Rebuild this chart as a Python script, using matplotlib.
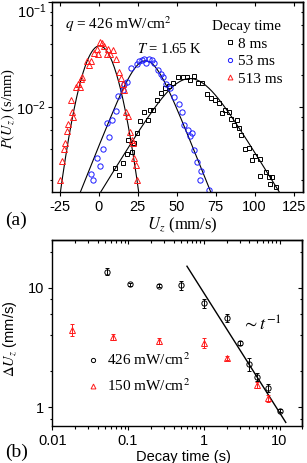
import numpy as np
import matplotlib.pyplot as plt
from matplotlib.ticker import FixedLocator, LogLocator, NullFormatter, FuncFormatter

plt.rcParams['font.family'] = ['Liberation Sans', 'DejaVu Sans']
plt.rcParams['mathtext.fontset'] = 'stix'
plt.rcParams['axes.linewidth'] = 1.0
plt.rcParams['axes.unicode_minus'] = False
plt.rcParams['xtick.labelsize'] = 10.5
plt.rcParams['ytick.labelsize'] = 10.5

SERIF = ['Liberation Serif', 'DejaVu Serif']

# (a) velocity distributions, q = 426 mW/cm2, T = 1.65 K
u_8ms = [10.5, 13.2, 15.8, 18.4, 19.0, 21.2, 22.3, 24.8, 26.6, 29.0,
         31.3, 33.0, 35.1, 37.3, 39.9, 42.6, 44.8, 47.6, 50.8, 54.0,
         56.6, 58.7, 61.3, 63.4, 66.2, 69.5, 72.0, 74.5, 76.9, 79.1,
         81.2, 83.4, 84.9, 87.0, 88.7, 89.8, 91.5, 94.1, 96.2, 98.4,
         100.1, 103.3, 103.7, 107.0, 109.1, 109.7, 111.3, 114.0]
p_8ms = [0.00262, 0.00226, 0.00292, 0.00354, 0.00482, 0.00372, 0.00448, 0.00565, 0.00736, 0.00896,
         0.00747, 0.0093, 0.0093, 0.0116, 0.0136, 0.0150, 0.0158, 0.0167, 0.0193, 0.0193,
         0.0191, 0.0182, 0.0196, 0.0167, 0.0167, 0.0132, 0.0121, 0.0117, 0.0108, 0.00865,
         0.0093, 0.00896, 0.00759, 0.0067, 0.00747, 0.00622, 0.00537, 0.00393, 0.00401, 0.0031,
         0.00341, 0.00315, 0.00218, 0.0024, 0.00215, 0.00183, 0.00212, 0.00173]

u_53ms = [-5.1, -3.5, -1.3, 0.8, 3.0, 5.1, 6.4, 8.4, 11.1, 12.6,
          15.4, 16.3, 18.4, 20.8, 24.4, 26.1, 27.7, 28.7, 30.4, 31.9,
          34.1, 35.6, 38.3, 39.9, 40.9, 43.3, 45.9, 48.4, 51.2, 53.3,
          54.4, 57.0, 58.3, 59.8, 61.3, 63.0, 65.1, 65.8, 70.5]
p_53ms = [0.00227, 0.0020, 0.00322, 0.00274, 0.00396, 0.00695, 0.00518, 0.00747, 0.0091, 0.0127,
          0.0144, 0.0164, 0.0171, 0.0236, 0.0259, 0.0273, 0.028, 0.0283, 0.0263, 0.0283,
          0.0279, 0.0263, 0.0224, 0.0205, 0.0193, 0.0164, 0.015, 0.0124, 0.0106, 0.00896,
          0.0067, 0.006, 0.00526, 0.00557, 0.00386, 0.00299, 0.0020, 0.00245, 0.0016]

u_513ms = [-24.6, -23.6, -22.3, -21.4, -20.5, -19.6, -17.9, -17.0, -16.7, -14.8,
           -13.5, -11.8, -11.4, -10.5, -7.7, -6.0, -5.1, -3.0, -1.3, -0.3,
           0.8, 2.3, 3.6, 5.1, 6.2, 7.3, 9.4, 10.9, 13.2, 14.3,
           15.8, 16.3, 17.4, 19.0, 20.1, 21.2, 21.8, 22.9, 23.8, 24.6]
p_513ms = [0.0020, 0.00303, 0.00396, 0.00448, 0.00586, 0.0068, 0.0116, 0.00885, 0.00803, 0.0155,
           0.0164, 0.0155, 0.0184, 0.0193, 0.0273, 0.0253, 0.0273, 0.0323, 0.0355, 0.0316,
           0.0417, 0.0407, 0.0381, 0.0316, 0.036, 0.0316, 0.0347, 0.0289, 0.0216, 0.0189,
           0.0164, 0.0144, 0.00885, 0.0082, 0.0057, 0.00482, 0.00448, 0.00327, 0.00278, 0.0020]

# fitted profiles P = peak / cosh((U - center) / width) ** power  (8, 53, 513 ms)
fit_center = [58.5, 30.0, 0.5]
fit_width = [18.0, 11.7, 48.5]
fit_peak = [0.0186, 0.0275, 0.0382]
fit_power = [1.0, 1.0, 25.0]

# (b) velocity spread vs decay time
t_426 = [0.053, 0.107, 0.26, 0.5, 1.0, 2.0, 3.0, 4.0, 5.0, 7.0, 10.0]
du_426 = [13.6, 10.7, 10.4, 10.5, 7.4, 5.6, 3.45, 2.3, 1.8, 1.45, 0.94]
err_426 = [0.9, 0.3, 0.3, 0.9, 0.7, 0.45, 0.15, 0.3, 0.14, 0.11, 0.03]
t_150 = [0.018, 0.063, 0.26, 1.0, 2.0, 5.0, 7.0]
du_150 = [4.47, 3.87, 3.57, 3.47, 2.58, 1.54, 1.19]
err_150 = [0.5, 0.22, 0.2, 0.35, 0.1, 0.08, 0.07]
power_t = [0.6, 12.1]
power_du = [15.1, 0.75]


def mirror_ticks(ax, xmaj, xmin, ymaj, ymin):
    top = ax.secondary_xaxis('top')
    top.set_xticks(xmaj)
    top.set_xticks(xmin, minor=True)
    top.tick_params(which='both', direction='in', labeltop=False)
    top.tick_params(which='major', length=3.2, width=0.8)
    top.tick_params(which='minor', length=1.8, width=0.8)
    right = ax.secondary_yaxis('right')
    right.set_yticks(ymaj)
    right.set_yticks(ymin, minor=True)
    right.tick_params(which='both', direction='in', labelright=False)
    right.tick_params(which='major', length=3.2, width=0.8)
    right.tick_params(which='minor', length=1.8, width=0.8)


fig = plt.figure(figsize=(3.07, 4.63), dpi=100)

# ---------- panel (a)
ax1 = fig.add_axes([52 / 307, 1 - 191.7 / 463, 251 / 307, 189.7 / 463])
ax1.set_yscale('log')

uu = np.linspace(-30, 131, 500)
for c, w, a, n in zip(fit_center, fit_width, fit_peak, fit_power):
    ax1.plot(uu, a / np.cosh((uu - c) / w) ** n, color='black', lw=0.8)

ax1.plot(u_8ms, p_8ms, 's', ms=3.4, mfc='none', mec='black', mew=0.7, label='8 ms')
ax1.plot(u_53ms, p_53ms, 'o', ms=3.8, mfc='none', mec='#1a1aff', mew=0.7, label='53 ms')
ax1.plot(u_513ms, p_513ms, '^', ms=4.4, mfc='none', mec='#ff1a1a', mew=0.7, label='513 ms')

ax1.set_xlim(-30, 131)
ax1.set_ylim(0.00155, 0.1)
u_ticks = [-25, 0, 25, 50, 75, 100, 125]
ax1.set_xticks(u_ticks)
ax1.yaxis.set_major_locator(FixedLocator([0.01, 0.1]))
ax1.yaxis.set_minor_locator(LogLocator(base=10, subs=[2, 4, 6, 8]))
ax1.yaxis.set_minor_formatter(NullFormatter())
# top label is drawn separately so that it stays inside the figure
ax1.yaxis.set_major_formatter(FuncFormatter(
    lambda v, pos: r'$\mathdefault{10^{-2}}$' if v < 0.05 else ''))
ax1.text(-0.022, 1.0, r'$\mathdefault{10^{-1}}$', transform=ax1.transAxes,
         ha='right', va='top', fontsize=10.5)
ax1.tick_params(which='major', direction='out', length=3.2, width=0.8, pad=2.5)
ax1.tick_params(which='minor', direction='out', length=1.8, width=0.8)
ax1.tick_params(axis='y', which='major', pad=1.5)
ymin_a = [k * 10.0 ** e for e in (-3, -2) for k in (2, 4, 6, 8)]
mirror_ticks(ax1, u_ticks, [], [0.01, 0.1], ymin_a)

ax1.set_xlabel(r'$U_z$ (mm/s)', fontfamily=SERIF, fontsize=12)
ax1.xaxis.set_label_coords(0.52, -0.125)
ax1.set_ylabel(r'$P(U_z)$ (s/mm)', fontfamily=SERIF, fontsize=10.5)
ax1.yaxis.set_label_coords(-0.14, 0.44)

ax1.text(0.052, 0.86, r'$q$ = 426 mW/cm$^2$', transform=ax1.transAxes,
         fontfamily=SERIF, fontsize=11, va='baseline')
ax1.text(0.339, 0.731, r'$T$ = 1.65 K', transform=ax1.transAxes,
         fontfamily=SERIF, fontsize=10.5, va='baseline')
ax1.text(0.637, 0.852, 'Decay time', transform=ax1.transAxes,
         fontfamily=SERIF, fontsize=10.8, va='baseline')
ax1.legend(loc='upper left', bbox_to_anchor=(0.693, 0.815), frameon=False,
           prop={'family': SERIF, 'size': 11}, handlelength=0.5,
           handletextpad=0.3, labelspacing=0.25, borderpad=0, borderaxespad=0,
           markerscale=0.8)

# ---------- panel (b)
ax2 = fig.add_axes([52.3 / 307, 1 - 426 / 463, 250 / 307, 186 / 463])
ax2.set_xscale('log')
ax2.set_yscale('log')

ax2.plot(power_t, power_du, color='black', lw=1.0)
ax2.errorbar(t_426, du_426, yerr=err_426, fmt='none', ecolor='black',
             elinewidth=0.7, capsize=1.6, capthick=0.7)
ax2.errorbar(t_150, du_150, yerr=err_150, fmt='none', ecolor='#ff1a1a',
             elinewidth=0.7, capsize=1.6, capthick=0.7)
ax2.plot(t_426, du_426, 'o', ms=3.8, mfc='none', mec='black', mew=0.7,
         label='426 mW/cm$^2$')
ax2.plot(t_150, du_150, '^', ms=4.4, mfc='none', mec='#ff1a1a', mew=0.7,
         label='150 mW/cm$^2$')

ax2.set_xlim(0.01, 20)
ax2.set_ylim(0.7, 25)
ax2.xaxis.set_major_locator(FixedLocator([0.01, 0.1, 1, 10]))
ax2.xaxis.set_minor_locator(LogLocator(base=10, subs=np.arange(2, 10)))
ax2.xaxis.set_minor_formatter(NullFormatter())
ax2.xaxis.set_major_formatter(FuncFormatter(lambda v, pos: '%g' % v))
ax2.yaxis.set_major_locator(FixedLocator([1, 10]))
ax2.yaxis.set_minor_locator(LogLocator(base=10, subs=[2, 4, 6, 8]))
ax2.yaxis.set_minor_formatter(NullFormatter())
ax2.yaxis.set_major_formatter(FuncFormatter(lambda v, pos: '%g' % v))
ax2.tick_params(which='major', direction='out', length=3.2, width=0.8, pad=2.5)
ax2.tick_params(which='minor', direction='out', length=1.8, width=0.8)
xmin_b = [k * 10.0 ** e for e in (-2, -1, 0, 1) for k in range(2, 10) if k * 10.0 ** e <= 20]
ymin_b = [k * 10.0 ** e for e in (-1, 0, 1) for k in (2, 4, 6, 8) if 0.7 <= k * 10.0 ** e <= 25]
mirror_ticks(ax2, [0.01, 0.1, 1, 10], xmin_b, [1, 10], ymin_b)

ax2.set_xlabel('Decay time (s)', fontsize=10.5)
ax2.xaxis.set_label_coords(0.523, -0.13)
ax2.set_ylabel(r'$\Delta U_z$ (mm/s)', fontsize=10.5)
ax2.yaxis.set_label_coords(-0.135, 0.47)

ax2.text(3.2, 4.4, r'$\sim t^{-1}$', fontsize=13, va='baseline')
ax2.legend(loc='upper left', bbox_to_anchor=(0.144, 0.40), frameon=False,
           prop={'family': SERIF, 'size': 11}, handlelength=0.6,
           handletextpad=0.6, labelspacing=0.6, borderpad=0, borderaxespad=0,
           markerscale=0.8)

fig.text(0.016, 1 - 225 / 463, '(a)', fontfamily=SERIF, fontsize=14, va='baseline')
fig.text(0.016, 1 - 457 / 463, '(b)', fontfamily=SERIF, fontsize=14, va='baseline')

fig.savefig('out.png', dpi=100)
